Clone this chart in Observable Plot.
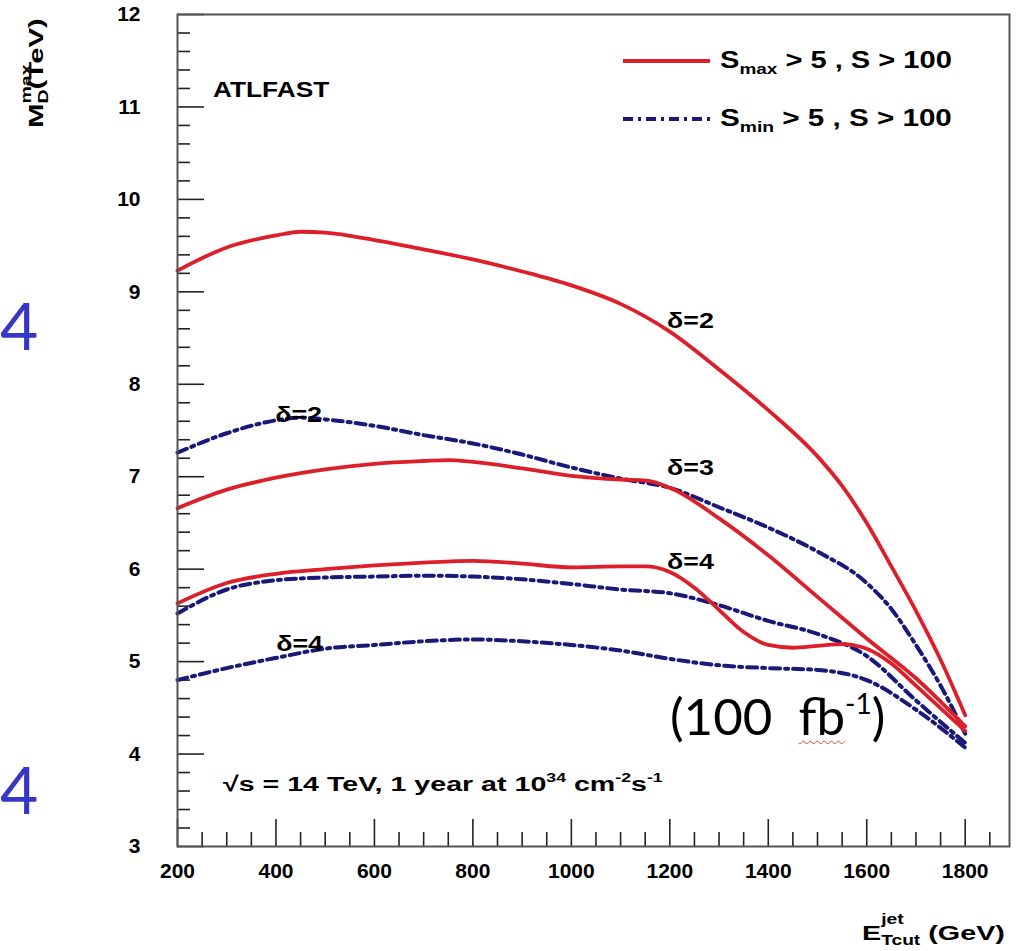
<!DOCTYPE html>
<html>
<head>
<meta charset="utf-8">
<script src="https://cdn.jsdelivr.net/npm/d3@7"></script>
<script src="https://cdn.jsdelivr.net/npm/@observablehq/plot@0.6"></script>
<style>
  body { margin: 0; background: #fff; }
  #wrap { position: relative; width: 1020px; height: 951px; overflow: hidden; font-family: "Liberation Sans", Arial, sans-serif; }
  #wrap svg { position: absolute; left: 0; top: 0; }
  #lumi { position: absolute; left: 670px; top: 689px; font-family: Lato, "Open Sans", sans-serif; font-size: 51px; line-height: 1; color: #000; white-space: nowrap; }
  #lumi .fb { text-decoration: underline wavy #d9463e; text-decoration-thickness: 1px; text-underline-offset: 5px; }
  #lumi sup { font-size: 0.55em; vertical-align: 0.75em; }
</style>
</head>
<body>
<div id="wrap"></div>
<script>
// ---- data (E_T,cut^jet in GeV, M_D^max in TeV) ----
const xTickLabels = [200, 400, 600, 800, 1000, 1200, 1400, 1600, 1800];
const yTickLabels = [3, 4, 5, 6, 7, 8, 9, 10, 11, 12];

// S_max > 5, S > 100 (red, solid)
const smaxD2E = [200, 300, 400, 450, 500, 600, 700, 800, 900, 1000, 1100, 1200, 1300, 1400, 1500, 1550, 1600, 1650, 1700, 1750, 1800];
const smaxD2M = [9.23, 9.48, 9.61, 9.65, 9.64, 9.56, 9.46, 9.35, 9.22, 9.07, 8.87, 8.57, 8.16, 7.72, 7.22, 6.90, 6.50, 6.03, 5.55, 5.02, 4.42];
const smaxD3E = [200, 300, 400, 500, 600, 700, 750, 800, 900, 1000, 1100, 1150, 1200, 1300, 1400, 1500, 1600, 1700, 1800];
const smaxD3M = [6.66, 6.86, 6.99, 7.08, 7.14, 7.17, 7.18, 7.16, 7.09, 7.01, 6.97, 6.96, 6.88, 6.55, 6.15, 5.70, 5.25, 4.82, 4.30];
const smaxD4E = [200, 300, 400, 500, 600, 700, 800, 900, 1000, 1100, 1150, 1200, 1250, 1300, 1350, 1400, 1450, 1500, 1550, 1600, 1650, 1700, 1800];
const smaxD4M = [5.63, 5.85, 5.95, 6.00, 6.04, 6.07, 6.09, 6.06, 6.02, 6.03, 6.03, 5.97, 5.80, 5.56, 5.32, 5.18, 5.15, 5.17, 5.19, 5.14, 4.98, 4.74, 4.25];

// S_min > 5, S > 100 (blue, dash-dot)
const sminD2E = [200, 300, 400, 450, 500, 600, 700, 800, 900, 1000, 1100, 1200, 1300, 1400, 1500, 1600, 1650, 1700, 1750, 1800];
const sminD2M = [7.26, 7.47, 7.61, 7.64, 7.62, 7.55, 7.45, 7.36, 7.24, 7.10, 6.98, 6.88, 6.67, 6.45, 6.19, 5.85, 5.57, 5.18, 4.74, 4.22];
const sminD3E = [200, 300, 400, 500, 600, 700, 800, 900, 1000, 1100, 1200, 1300, 1400, 1500, 1600, 1700, 1800];
const sminD3M = [5.52, 5.78, 5.88, 5.91, 5.92, 5.93, 5.92, 5.89, 5.84, 5.78, 5.74, 5.61, 5.44, 5.30, 5.06, 4.58, 4.12];
const sminD4E = [200, 300, 400, 500, 600, 700, 800, 900, 1000, 1100, 1200, 1300, 1400, 1500, 1600, 1700, 1800];
const sminD4M = [4.80, 4.93, 5.04, 5.14, 5.18, 5.22, 5.24, 5.22, 5.18, 5.12, 5.03, 4.96, 4.93, 4.91, 4.80, 4.48, 4.07];

// curve labels
const curveLabelText = ["δ=2", "δ=3", "δ=4", "δ=2", "δ=4"];
const curveLabelE = [1242, 1242, 1242, 446, 448];
const curveLabelM = [8.68, 7.10, 6.08, 7.67, 5.19];

const legendLabels = ["max", "min"];

// ---- build tables ----
const rows = (E, M, series) => E.map((e, i) => ({e, m: M[i], series}));
const redRows = [...rows(smaxD2E, smaxD2M, "d2"), ...rows(smaxD3E, smaxD3M, "d3"), ...rows(smaxD4E, smaxD4M, "d4")];
const blueRows = [...rows(sminD2E, sminD2M, "d2"), ...rows(sminD3E, sminD3M, "d3"), ...rows(sminD4E, sminD4M, "d4")];
const labelRows = curveLabelText.map((t, i) => ({t, e: curveLabelE[i], m: curveLabelM[i]}));

const RED = "#dd1f2a", BLUE = "#19197a", DASH = "10,5,3,5";
const W = 1020, H = 951, ML = 177, MR = 11, MT = 14, MB = 105;
const FW = W - ML - MR, FH = H - MT - MB;

const xMinor = d3.range(250, 1890, 50).filter(v => v % 200 !== 0);
const yMinor = d3.range(30, 121, 2).map(v => v / 10).filter(v => !Number.isInteger(v));

const chart = Plot.plot({
  width: W, height: H,
  marginLeft: ML, marginRight: MR, marginTop: MT, marginBottom: MB,
  x: {domain: [200, 1890]},
  y: {domain: [3, 12]},
  style: {fontFamily: '"Liberation Sans", Arial, sans-serif', fontWeight: "bold", background: "transparent", color: "#000"},
  marks: [
    Plot.tickY(yMinor, {y: d => d, insetRight: FW - 13, stroke: "#222", strokeWidth: 1.6}),
    Plot.tickY(yTickLabels, {y: d => d, insetRight: FW - 27, stroke: "#222", strokeWidth: 1.6}),
    Plot.tickX(xMinor, {x: d => d, insetTop: FH - 14, stroke: "#222", strokeWidth: 1.6}),
    Plot.tickX(xTickLabels, {x: d => d, insetTop: FH - 27, stroke: "#222", strokeWidth: 1.6}),
    Plot.axisY({ticks: yTickLabels, tickSize: 0, tickPadding: 37, fontSize: 21, label: null, tickFormat: d => String(d)}),
    Plot.axisX({ticks: xTickLabels, tickSize: 0, tickPadding: 17, fontSize: 21, label: null, tickFormat: d => String(d)}),
    Plot.line(blueRows, {x: "e", y: "m", z: "series", stroke: BLUE, strokeWidth: 4, strokeDasharray: DASH, curve: "monotone-x"}),
    Plot.line(redRows, {x: "e", y: "m", z: "series", stroke: RED, strokeWidth: 3.8, curve: "monotone-x"}),
    Plot.text(labelRows, {x: "e", y: "m", text: "t", fontSize: 22, fontWeight: "bold", fill: "#000"}),
    Plot.frame({stroke: "#555", strokeWidth: 2})
  ]
});
const wrap = document.getElementById("wrap");
wrap.appendChild(chart);
// widen the curve labels like the reference's broad bold face
d3.select(chart).selectAll('g[aria-label="text"] text').each(function () {
  const t = this.getAttribute("transform") || "";
  this.setAttribute("transform", t + " scale(1.22,1)");
});

// ---- annotation layer (titles, legend, notes) ----
const ann = d3.select(wrap).append("svg").attr("width", W).attr("height", H).style("pointer-events", "none");

function addText(spec) {
  const g = ann.append("g");
  const t = g.append("text")
    .attr("font-family", spec.font || '"Liberation Sans", Arial, sans-serif')
    .attr("font-weight", spec.weight || "bold")
    .attr("font-size", spec.size)
    .attr("fill", spec.fill || "#000");
  let shift = 0, prevW = 0, stackFirst = null;
  spec.parts.forEach(p => {
    const ts = t.append("tspan").text(p.t).attr("font-size", p.size || spec.size);
    let dx = 0;
    if (p.stack) { dx -= prevW; stackFirst = prevW; }
    else if (stackFirst !== null) { dx += stackFirst - prevW; stackFirst = null; }
    const s = p.shift || 0;
    if (dx) ts.attr("dx", dx);
    if (s !== shift) ts.attr("dy", s - shift);
    shift = s;
    prevW = ts.node().getComputedTextLength();
  });
  const bw = t.node().getBBox().width;
  const sx = spec.w ? spec.w / bw : 1;
  g.attr("transform", `translate(${spec.x},${spec.y})${spec.rotate ? ` rotate(${spec.rotate})` : ""} scale(${sx},1)`);
  return g;
}

// legend
ann.append("line").attr("x1", 623).attr("x2", 710).attr("y1", 61).attr("y2", 61).attr("stroke", RED).attr("stroke-width", 3.8);
ann.append("line").attr("x1", 623).attr("x2", 710).attr("y1", 119).attr("y2", 119).attr("stroke", BLUE).attr("stroke-width", 4).attr("stroke-dasharray", DASH);
addText({x: 720, y: 68, w: 232, size: 23, parts: [{t: "S"}, {t: legendLabels[0], size: 15, shift: 6}, {t: " > 5 , S > 100"}]});
addText({x: 720, y: 126, w: 232, size: 23, parts: [{t: "S"}, {t: legendLabels[1], size: 15, shift: 6}, {t: " > 5 , S > 100"}]});

// ATLFAST
addText({x: 213, y: 97, w: 117, size: 22, parts: [{t: "ATLFAST"}]});

// sqrt(s) note
addText({x: 223, y: 791, w: 440, size: 21, parts: [
  {t: "√s = 14 TeV, 1 year at 10"}, {t: "34", size: 13, shift: -9}, {t: " cm"}, {t: "-2", size: 13, shift: -9}, {t: "s"}, {t: "-1", size: 13, shift: -9}
]});

// y title (rotated)
addText({x: 43, y: 128, w: 110, size: 21, rotate: -90, parts: [
  {t: "M"}, {t: "D", size: 14, shift: 5}, {t: "max", size: 14, shift: -12, stack: true}, {t: "(TeV)"}
]});

// x title
addText({x: 862, y: 940, w: 143, size: 21, parts: [
  {t: "E"}, {t: "Tcut", size: 14, shift: 5}, {t: "jet", size: 14, shift: -16, stack: true}, {t: " (GeV)"}
]});

// blue "4" fragments at the left edge
addText({x: 0, y: 350, size: 66, weight: "normal", font: 'Lato, "Open Sans", sans-serif', fill: "#3636c8", parts: [{t: "4"}]});
addText({x: 0, y: 814, size: 66, weight: "normal", font: 'Lato, "Open Sans", sans-serif', fill: "#3636c8", parts: [{t: "4"}]});

// luminosity note
const lumi = document.createElement("div");
lumi.id = "lumi";
lumi.innerHTML = '(100&nbsp;&nbsp;<span class="fb">fb</span><sup>-1</sup>)';
wrap.appendChild(lumi);
</script>
</body>
</html>
